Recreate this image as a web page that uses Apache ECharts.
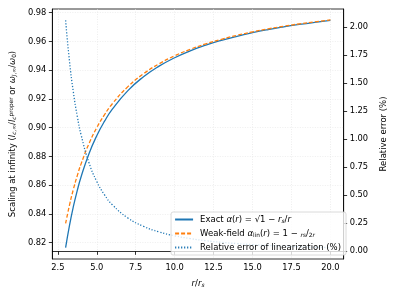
<!DOCTYPE html>
<html><head><meta charset="utf-8">
<script src="https://cdn.jsdelivr.net/npm/echarts@6/dist/echarts.min.js"></script>
<style>html,body{margin:0;padding:0;background:#fff}#c{width:396px;height:297px}</style>
</head><body><div id="c"></div>
<script>
var rRatio = [3, 3.25, 3.5, 3.75, 4, 4.5, 5, 5.5, 6, 7, 8, 9, 10, 11, 12, 13, 14, 15, 16, 17, 18, 19, 20];
var exactAlpha = [0.81650, 0.83205, 0.845154, 0.856349, 0.866025, 0.881917, 0.894427, 0.904534, 0.912871, 0.925820, 0.935414, 0.942809, 0.948683, 0.953463, 0.957427, 0.960769, 0.963624, 0.966092, 0.968246, 0.970142, 0.971825, 0.973328, 0.974679];
var weakAlpha = [0.833333, 0.846154, 0.857143, 0.866667, 0.875, 0.888889, 0.9, 0.909091, 0.916667, 0.928571, 0.9375, 0.944444, 0.95, 0.954545, 0.958333, 0.961538, 0.964286, 0.966667, 0.96875, 0.970588, 0.972222, 0.973684, 0.975];
var relErr = [2.0616, 1.6951, 1.4186, 1.2049, 1.0363, 0.7905, 0.6231, 0.5038, 0.4158, 0.2972, 0.2230, 0.1734, 0.1388, 0.1135, 0.0946, 0.0800, 0.0687, 0.0595, 0.0521, 0.0460, 0.0409, 0.0366, 0.0329];
var xTicks = [2.5, 5.0, 7.5, 10.0, 12.5, 15.0, 17.5, 20.0];
var yLeftTicks = [0.82, 0.84, 0.86, 0.88, 0.90, 0.92, 0.94, 0.96, 0.98];
var yRightTicks = [0, 0.25, 0.5, 0.75, 1.0, 1.25, 1.5, 1.75, 2.0];
var seriesNames = ['Exact', 'Weak-field', 'Relative error of linearization (%)'];

function pairs(xs, ys){ return xs.map(function(x,i){return [x, ys[i]];}); }
var FONT = 'DejaVu Sans';
var FS = 8.3, LFS = 8.5, SFS = 5.8;
var rich = {
  t: {fontFamily: FONT, fontSize: LFS, color: '#000'},
  i: {fontFamily: FONT, fontSize: LFS, color: '#000', fontStyle: 'italic'},
  s: {fontFamily: FONT, fontSize: SFS, color: '#000', verticalAlign: 'bottom', padding: [3,0,0,0]},
  si: {fontFamily: FONT, fontSize: SFS, color: '#000', fontStyle: 'italic', verticalAlign: 'bottom', padding: [3,0,0,0]},
  p: {fontFamily: FONT, fontSize: SFS, color: '#000', verticalAlign: 'top', padding: [0,0,3,0]}
};
var legendText = {
  'Exact': '{t|Exact }{i|α}{t|(}{i|r}{t|) = √1 − }{i|r}{si|s}{t|/}{i|r}',
  'Weak-field': '{t|Weak-field }{i|α}{s|lin}{t|(}{i|r}{t|) = 1 − }{si|r}{s|s}{t|/}{s|2}{si|r}',
  'Relative error of linearization (%)': '{t|Relative error of linearization (%)}'
};

var chart = echarts.init(document.getElementById('c'), null, {renderer: 'canvas'});
var tickStyle = {color: '#000', width: 0.8};
var splitLine = {show: true, lineStyle: {color: '#e2e2e2', width: 0.6, type: [1, 1.5]}};
function lbl(m, d){ return {fontFamily: FONT, fontSize: FS, color: '#000', margin: m}; }
chart.setOption({
  animation: false,
  backgroundColor: '#fff',
  grid: {left: 50, right: 47, top: 9, bottom: 38, show: true, borderColor: '#000', borderWidth: 0.8, backgroundColor: 'transparent'},
  legend: {
    orient: 'vertical', right: 50, bottom: 42,
    data: seriesNames,
    itemWidth: 18, itemHeight: 10, itemGap: 5,
    padding: [3, 5, 3, 3],
    itemStyle: {opacity: 0},
    backgroundColor: 'rgba(255,255,255,0.8)',
    borderColor: '#d0d0d0', borderWidth: 0.8, borderRadius: 2,
    textStyle: {fontFamily: FONT, fontSize: LFS, color: '#000', rich: rich, padding: [0,0,0,2]},
    formatter: function(n){ return legendText[n]; }
  },
  xAxis: {
    type: 'value', min: 2.15, max: 20.85,
    name: '{i|r}{t|/}{i|r}{si|s}', nameLocation: 'middle', nameGap: 20,
    nameTextStyle: {rich: rich},
    axisLine: {lineStyle: tickStyle},
    axisTick: {show: true, length: 3.5, lineStyle: tickStyle, customValues: xTicks},
    axisLabel: Object.assign(lbl(5), {customValues: xTicks, formatter: function(v){return v.toFixed(1);}}),
    splitLine: splitLine
  },
  yAxis: [{
    type: 'value', min: 0.8086, max: 0.9826,
    name: '{t|Scaling at infinity (}{i|l}{si|c}{s|,∞}{t|/}{i|l}{si|c}{p|proper}{t| or }{i|ω}{si|J}{s|,∞}{t|/}{i|ω}{s|0}{t|)}',
    nameLocation: 'middle', nameRotate: 90, nameGap: 30,
    nameTextStyle: {rich: rich},
    axisLine: {show: true, lineStyle: tickStyle},
    axisTick: {show: true, length: 3.5, lineStyle: tickStyle, customValues: yLeftTicks},
    axisLabel: Object.assign(lbl(6), {customValues: yLeftTicks, formatter: function(v){return v.toFixed(2);}}),
    splitLine: splitLine
  }, {
    type: 'value', min: -0.0686, max: 2.163, position: 'right',
    name: 'Relative error (%)', nameLocation: 'middle', nameRotate: 90, nameGap: 30,
    nameTextStyle: {fontFamily: FONT, fontSize: LFS, color: '#000'},
    axisLine: {show: true, lineStyle: tickStyle},
    axisTick: {show: true, length: 3.5, lineStyle: tickStyle, customValues: yRightTicks},
    axisLabel: Object.assign(lbl(6), {customValues: yRightTicks, formatter: function(v){return v.toFixed(2);}}),
    splitLine: {show: false}
  }],
  series: [{
    name: seriesNames[0], type: 'line', yAxisIndex: 0, smooth: true, symbol: 'none',
    data: pairs(rRatio, exactAlpha),
    lineStyle: {color: '#1f77b4', width: 1.3, type: 'solid'}, itemStyle: {color: '#1f77b4'}
  }, {
    name: seriesNames[1], type: 'line', yAxisIndex: 0, smooth: true, symbol: 'none',
    data: pairs(rRatio, weakAlpha),
    lineStyle: {color: '#ff7f0e', width: 1.3, type: [4, 2]}, itemStyle: {color: '#ff7f0e'}
  }, {
    name: seriesNames[2], type: 'line', yAxisIndex: 1, smooth: true, symbol: 'none',
    data: pairs(rRatio, relErr),
    lineStyle: {color: '#1f77b4', width: 1.3, type: [1.2, 1.8]}, itemStyle: {color: '#1f77b4'}
  }]
});
</script></body></html>
